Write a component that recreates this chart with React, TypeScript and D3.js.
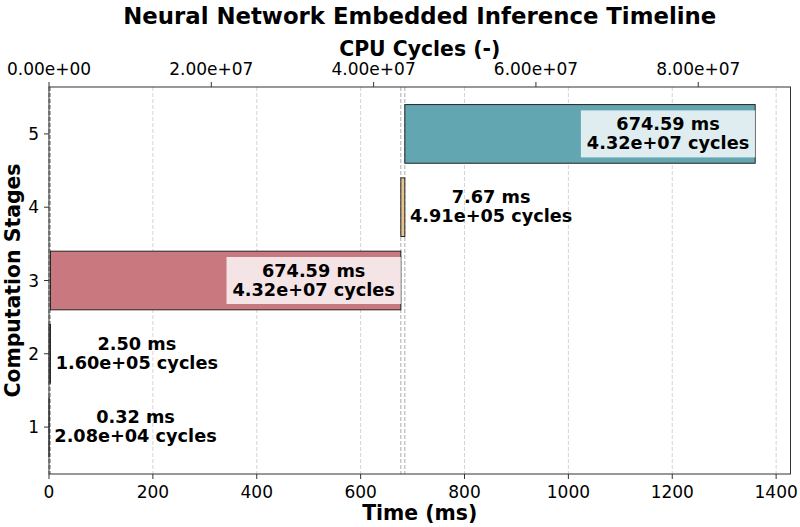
import React from 'react';
import * as d3 from 'd3';

const stages = [1, 2, 3, 4, 5];
const durationsMs = [0.32, 2.5, 674.59, 7.67, 674.59];
const cycleCounts = [2.08e4, 1.6e5, 4.32e7, 4.91e5, 4.32e7];
const stageColors = ['#7a9cc6', '#9cc59a', '#c97880', '#e6c48f', '#62a6b2'];
const timeTicks = [0, 200, 400, 600, 800, 1000, 1200, 1400];
const cycleTicks = [0, 2e7, 4e7, 6e7, 8e7];
const stageTicks = [1, 2, 3, 4, 5];
const CYCLES_PER_MS = 64000;

const FONT = '"DejaVu Sans", Verdana, sans-serif';
const W = 800;
const H = 527;
const M = { left: 49, right: 790.5, top: 87, bottom: 474 };

let measureCtx: CanvasRenderingContext2D | null = null;
function textWidth(s: string, font: string): number {
  if (!measureCtx && typeof document !== 'undefined') {
    measureCtx = document.createElement('canvas').getContext('2d');
  }
  if (!measureCtx) return s.length * 10;
  measureCtx.font = font;
  return measureCtx.measureText(s).width;
}

function fmtExp(v: number): string {
  const s = v.toExponential(2);
  const [m, e] = s.split('e');
  const sign = e[0] === '-' ? '-' : '+';
  const digits = e.replace(/[+-]/, '').padStart(2, '0');
  return `${m}e${sign}${digits}`;
}

export default function App() {
  const starts: number[] = [];
  let acc = 0;
  durationsMs.forEach((d) => {
    starts.push(acc);
    acc += d;
  });
  const total = acc;
  const xMax = total * 1.05;

  const x = d3.scaleLinear().domain([0, xMax]).range([M.left, M.right]);
  const xc = d3.scaleLinear().domain([0, xMax * CYCLES_PER_MS]).range([M.left, M.right]);
  const yLo = 1 - 0.4;
  const yHi = 5 + 0.4;
  const pad = 0.05 * (yHi - yLo);
  const y = d3.scaleLinear().domain([yLo - pad, yHi + pad]).range([M.bottom, M.top]);

  const annFontSize = 17.7;
  const annFont = `bold ${annFontSize}px ${FONT}`;
  const tickFs = 17;
  const labelFs = 20.4;

  const cx = (M.left + M.right) / 2;
  const cy = (M.top + M.bottom) / 2;

  return (
    <svg
      width={W}
      height={H}
      viewBox={`0 0 ${W} ${H}`}
      style={{ position: 'absolute', left: 0, top: 0, background: '#fff' }}
      fontFamily={FONT}
    >
      <rect x={0} y={0} width={W} height={H} fill="#fff" />
      {/* grid */}
      {timeTicks.map((t) => (
        <line
          key={`g${t}`}
          x1={x(t)}
          x2={x(t)}
          y1={M.top}
          y2={M.bottom}
          stroke="#cfcfcf"
          strokeWidth={0.9}
          strokeDasharray="4,2"
        />
      ))}
      {/* boundary lines */}
      {starts.map((s, i) => (
        <line
          key={`b${i}`}
          x1={x(s)}
          x2={x(s)}
          y1={M.top}
          y2={M.bottom}
          stroke="#8a8a8a"
          strokeOpacity={0.7}
          strokeWidth={1}
          strokeDasharray="4,2"
        />
      ))}
      {/* bars */}
      {stages.map((st, i) => {
        const x0 = x(starts[i]);
        const x1 = x(starts[i] + durationsMs[i]);
        return (
          <rect
            key={`bar${st}`}
            x={x0}
            y={y(st + 0.4)}
            width={Math.max(x1 - x0, 0)}
            height={y(st - 0.4) - y(st + 0.4)}
            fill={stageColors[i]}
            stroke="#222"
            strokeWidth={1}
          />
        );
      })}
      {/* annotations */}
      {stages.map((st, i) => {
        const l1 = `${durationsMs[i].toFixed(2)} ms`;
        const l2 = `${fmtExp(cycleCounts[i])} cycles`;
        const w = Math.max(textWidth(l1, annFont), textWidth(l2, annFont));
        const end = starts[i] + durationsMs[i];
        const yc = y(st);
        const inside = durationsMs[i] > 0.1 * total;
        let mid: number;
        let box: React.ReactNode = null;
        if (inside) {
          const right = x(end) - 6;
          mid = right - w / 2;
          box = (
            <rect
              x={right - w - 6}
              y={yc - 23.5}
              width={w + 12}
              height={47}
              fill="#fff"
              fillOpacity={0.8}
            />
          );
        } else {
          const left = x(end + 10);
          mid = left + w / 2;
        }
        return (
          <g key={`ann${st}`}>
            {box}
            <text
              x={mid}
              y={yc - 4}
              textAnchor="middle"
              fontWeight="bold"
              fontSize={annFontSize}
              fill="#000"
            >
              {l1}
            </text>
            <text
              x={mid}
              y={yc + 15}
              textAnchor="middle"
              fontWeight="bold"
              fontSize={annFontSize}
              fill="#000"
            >
              {l2}
            </text>
          </g>
        );
      })}
      {/* spines */}
      <rect
        x={M.left}
        y={M.top}
        width={M.right - M.left}
        height={M.bottom - M.top}
        fill="none"
        stroke="#333"
        strokeWidth={1}
      />
      {/* bottom axis */}
      {timeTicks.map((t) => (
        <g key={`bt${t}`}>
          <line x1={x(t)} x2={x(t)} y1={M.bottom} y2={M.bottom + 5} stroke="#333" strokeWidth={1} />
          <text x={x(t)} y={498} textAnchor="middle" fontSize={tickFs} fill="#000">
            {t}
          </text>
        </g>
      ))}
      <text x={cx} y={520} textAnchor="middle" fontWeight="bold" fontSize={labelFs} fill="#000">
        Time (ms)
      </text>
      {/* top axis */}
      {cycleTicks.map((t) => (
        <g key={`tt${t}`}>
          <line x1={xc(t)} x2={xc(t)} y1={M.top} y2={M.top - 5} stroke="#333" strokeWidth={1} />
          <text x={xc(t)} y={75} textAnchor="middle" fontSize={tickFs} fill="#000">
            {fmtExp(t)}
          </text>
        </g>
      ))}
      <text x={cx} y={56} textAnchor="middle" fontWeight="bold" fontSize={labelFs} fill="#000">
        CPU Cycles (-)
      </text>
      {/* left axis */}
      {stageTicks.map((t) => (
        <g key={`lt${t}`}>
          <line x1={M.left} x2={M.left - 5} y1={y(t)} y2={y(t)} stroke="#333" strokeWidth={1} />
          <text x={M.left - 10} y={y(t) + 6} textAnchor="end" fontSize={tickFs} fill="#000">
            {t}
          </text>
        </g>
      ))}
      <text
        transform={`translate(20,${cy}) rotate(-90)`}
        textAnchor="middle"
        fontWeight="bold"
        fontSize={labelFs}
        fill="#000"
      >
        Computation Stages
      </text>
      {/* title */}
      <text x={cx} y={24} textAnchor="middle" fontWeight="bold" fontSize={22.8} fill="#000">
        Neural Network Embedded Inference Timeline
      </text>
    </svg>
  );
}
